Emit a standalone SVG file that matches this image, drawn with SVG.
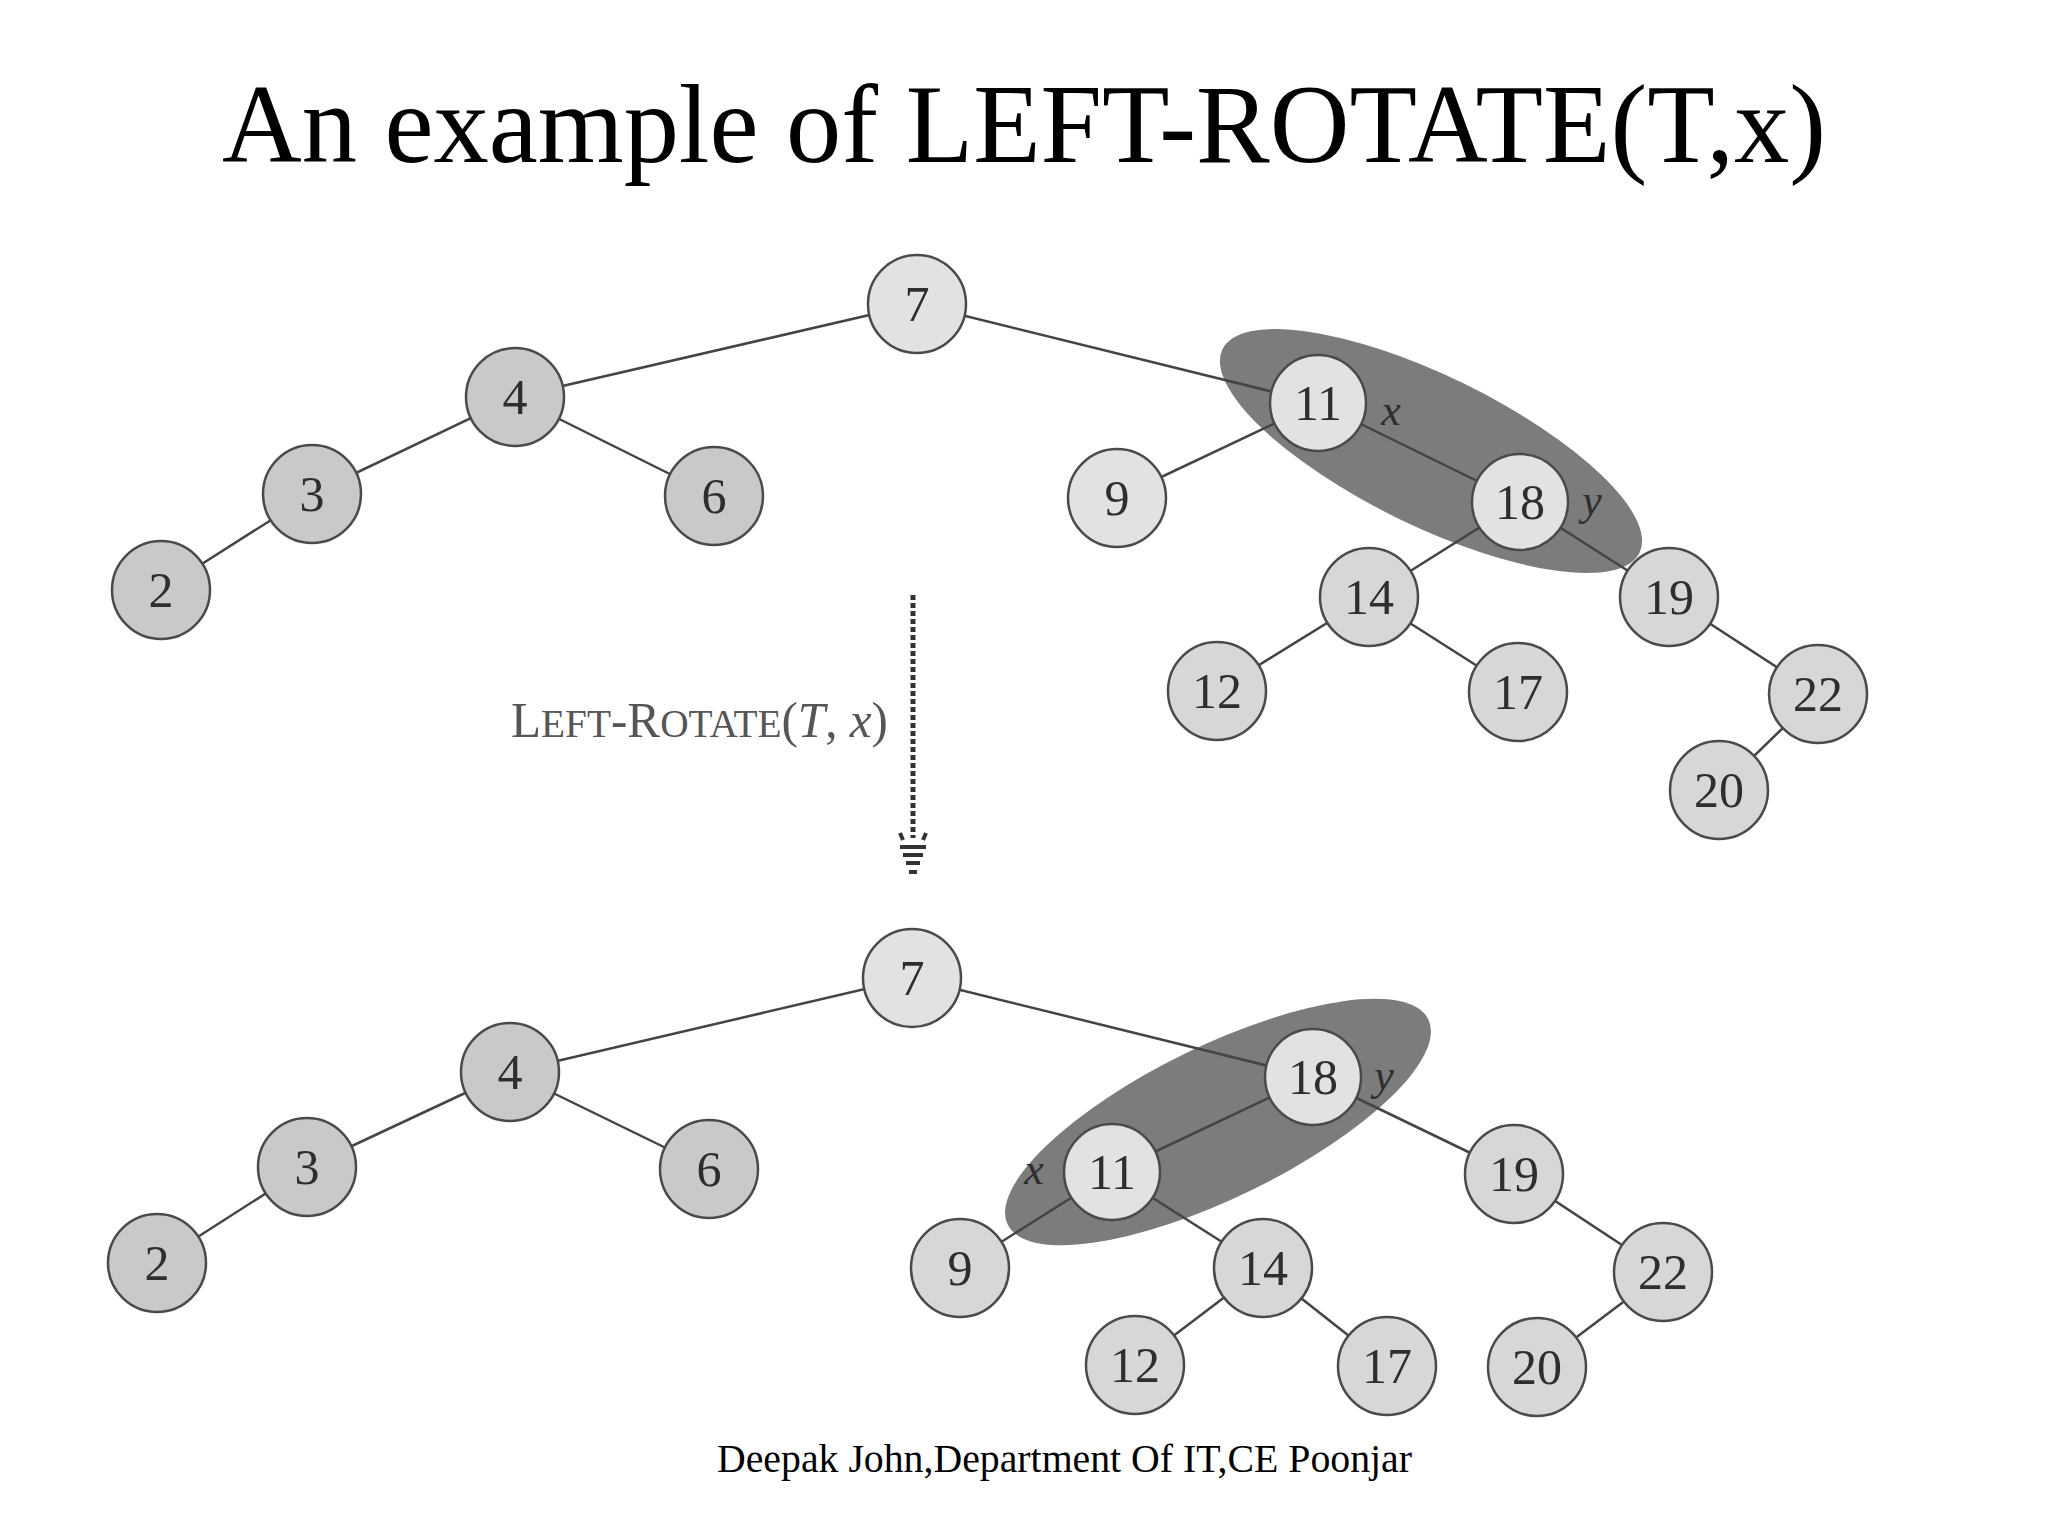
<svg xmlns="http://www.w3.org/2000/svg" width="2048" height="1536" viewBox="0 0 2048 1536">
<style>
.bg{fill:#ffffff}
.title{font-family:"Liberation Serif","Times New Roman",serif;font-size:113px;fill:#000}
.footer{font-family:"Liberation Serif","Times New Roman",serif;font-size:40px;fill:#000}
.node circle{stroke:#4a4a4a;stroke-width:2.5}
.light circle{fill:#e2e2e2}
.mid circle{fill:#d7d7d7}
.dark circle{fill:#c9c9c9}
.node text{font-family:"Liberation Serif","Times New Roman",serif;font-size:50px;fill:#2e2e2e;text-anchor:middle}
.edge{stroke:#444;stroke-width:2.5;fill:none}
.hl{fill:#7c7c7c}
.var{font-family:"Liberation Serif","Times New Roman",serif;font-style:italic;font-size:44px;fill:#2e2e2e;text-anchor:middle}
.op{font-family:"Liberation Serif","Times New Roman",serif;font-size:50px;fill:#555}
.arrow{stroke:#333;stroke-width:5;stroke-dasharray:5 3;fill:none}
.ahead{stroke:#333;stroke-width:4;fill:none}
</style>
<rect class="bg" x="0" y="0" width="2048" height="1536"/>
<text class="title" x="222" y="162" textLength="1604" lengthAdjust="spacingAndGlyphs">An example of LEFT-ROTATE(T,x)</text>

<!-- highlight ellipses -->
<ellipse class="hl" cx="1431" cy="451" rx="232" ry="75" transform="rotate(26 1431 451)"/>
<ellipse class="hl" cx="1218" cy="1122" rx="234" ry="76" transform="rotate(-26 1218 1122)"/>

<g id="connectors">
  <!-- top tree -->
  <line class="edge" x1="917" y1="304" x2="515" y2="397"/>
  <line class="edge" x1="917" y1="304" x2="1318" y2="403"/>
  <line class="edge" x1="515" y1="397" x2="312" y2="494"/>
  <line class="edge" x1="515" y1="397" x2="714" y2="496"/>
  <line class="edge" x1="312" y1="494" x2="161" y2="590"/>
  <line class="edge" x1="1318" y1="403" x2="1117" y2="498"/>
  <line class="edge" x1="1318" y1="403" x2="1520" y2="502"/>
  <line class="edge" x1="1520" y1="502" x2="1369" y2="597"/>
  <line class="edge" x1="1520" y1="502" x2="1669" y2="597"/>
  <line class="edge" x1="1369" y1="597" x2="1217" y2="691"/>
  <line class="edge" x1="1369" y1="597" x2="1518" y2="692"/>
  <line class="edge" x1="1669" y1="597" x2="1818" y2="694"/>
  <line class="edge" x1="1818" y1="694" x2="1719" y2="790"/>
  <!-- bottom tree -->
  <line class="edge" x1="912" y1="978" x2="510" y2="1072"/>
  <line class="edge" x1="912" y1="978" x2="1313" y2="1077"/>
  <line class="edge" x1="510" y1="1072" x2="307" y2="1167"/>
  <line class="edge" x1="510" y1="1072" x2="709" y2="1169"/>
  <line class="edge" x1="307" y1="1167" x2="157" y2="1263"/>
  <line class="edge" x1="1313" y1="1077" x2="1112" y2="1172"/>
  <line class="edge" x1="1313" y1="1077" x2="1514" y2="1174"/>
  <line class="edge" x1="1112" y1="1172" x2="960" y2="1268"/>
  <line class="edge" x1="1112" y1="1172" x2="1263" y2="1268"/>
  <line class="edge" x1="1263" y1="1268" x2="1135" y2="1365"/>
  <line class="edge" x1="1263" y1="1268" x2="1387" y2="1366"/>
  <line class="edge" x1="1514" y1="1174" x2="1663" y2="1272"/>
  <line class="edge" x1="1663" y1="1272" x2="1537" y2="1367"/>
  <!-- rotation arrow -->
  <line class="arrow" x1="913" y1="595" x2="913" y2="838"/>
  <g class="ahead">
    <line x1="900" y1="833" x2="903" y2="840"/>
    <line x1="926" y1="833" x2="923" y2="840"/>
    <line x1="900" y1="847" x2="926" y2="847"/>
    <line x1="903" y1="855" x2="923" y2="855"/>
    <line x1="906" y1="863" x2="920" y2="863"/>
    <line x1="909" y1="872" x2="917" y2="872"/>
  </g>
</g>

<text class="op" x="511" y="737" textLength="377" lengthAdjust="spacingAndGlyphs"><tspan>L</tspan><tspan font-size="40">EFT</tspan><tspan>-R</tspan><tspan font-size="40">OTATE</tspan><tspan>(</tspan><tspan font-style="italic">T</tspan><tspan>, </tspan><tspan font-style="italic">x</tspan><tspan>)</tspan></text>

<!-- top tree nodes -->
<g id="t7" class="node light"><circle cx="917" cy="304" r="49"/><text x="917" y="321">7</text></g>
<g id="t4" class="node dark"><circle cx="515" cy="397" r="49"/><text x="515" y="414">4</text></g>
<g id="t3" class="node dark"><circle cx="312" cy="494" r="49"/><text x="312" y="511">3</text></g>
<g id="t6" class="node dark"><circle cx="714" cy="496" r="49"/><text x="714" y="513">6</text></g>
<g id="t2" class="node dark"><circle cx="161" cy="590" r="49"/><text x="161" y="607">2</text></g>
<g id="t11" class="node light"><circle cx="1318" cy="403" r="48"/><text x="1318" y="420">11</text></g>
<g id="t9" class="node light"><circle cx="1117" cy="498" r="49"/><text x="1117" y="515">9</text></g>
<g id="t18" class="node light"><circle cx="1520" cy="502" r="48"/><text x="1520" y="519">18</text></g>
<g id="t14" class="node mid"><circle cx="1369" cy="597" r="49"/><text x="1369" y="614">14</text></g>
<g id="t19" class="node mid"><circle cx="1669" cy="597" r="49"/><text x="1669" y="614">19</text></g>
<g id="t12" class="node mid"><circle cx="1217" cy="691" r="49"/><text x="1217" y="708">12</text></g>
<g id="t17" class="node mid"><circle cx="1518" cy="692" r="49"/><text x="1518" y="709">17</text></g>
<g id="t22" class="node mid"><circle cx="1818" cy="694" r="49"/><text x="1818" y="711">22</text></g>
<g id="t20" class="node mid"><circle cx="1719" cy="790" r="49"/><text x="1719" y="807">20</text></g>
<text class="var" x="1391" y="425">x</text>
<text class="var" x="1592" y="515">y</text>

<!-- bottom tree nodes -->
<g id="b7" class="node light"><circle cx="912" cy="978" r="49"/><text x="912" y="995">7</text></g>
<g id="b4" class="node dark"><circle cx="510" cy="1072" r="49"/><text x="510" y="1089">4</text></g>
<g id="b3" class="node dark"><circle cx="307" cy="1167" r="49"/><text x="307" y="1184">3</text></g>
<g id="b6" class="node dark"><circle cx="709" cy="1169" r="49"/><text x="709" y="1186">6</text></g>
<g id="b2" class="node dark"><circle cx="157" cy="1263" r="49"/><text x="157" y="1280">2</text></g>
<g id="b18" class="node light"><circle cx="1313" cy="1077" r="48"/><text x="1313" y="1094">18</text></g>
<g id="b11" class="node light"><circle cx="1112" cy="1172" r="48"/><text x="1112" y="1189">11</text></g>
<g id="b19" class="node mid"><circle cx="1514" cy="1174" r="49"/><text x="1514" y="1191">19</text></g>
<g id="b9" class="node mid"><circle cx="960" cy="1268" r="49"/><text x="960" y="1285">9</text></g>
<g id="b14" class="node mid"><circle cx="1263" cy="1268" r="49"/><text x="1263" y="1285">14</text></g>
<g id="b22" class="node mid"><circle cx="1663" cy="1272" r="49"/><text x="1663" y="1289">22</text></g>
<g id="b12" class="node mid"><circle cx="1135" cy="1365" r="49"/><text x="1135" y="1382">12</text></g>
<g id="b17" class="node mid"><circle cx="1387" cy="1366" r="49"/><text x="1387" y="1383">17</text></g>
<g id="b20" class="node mid"><circle cx="1537" cy="1367" r="49"/><text x="1537" y="1384">20</text></g>
<text class="var" x="1034" y="1184">x</text>
<text class="var" x="1384" y="1090">y</text>

<text class="footer" x="717" y="1472" textLength="695" lengthAdjust="spacingAndGlyphs">Deepak John,Department Of IT,CE Poonjar</text>
</svg>
